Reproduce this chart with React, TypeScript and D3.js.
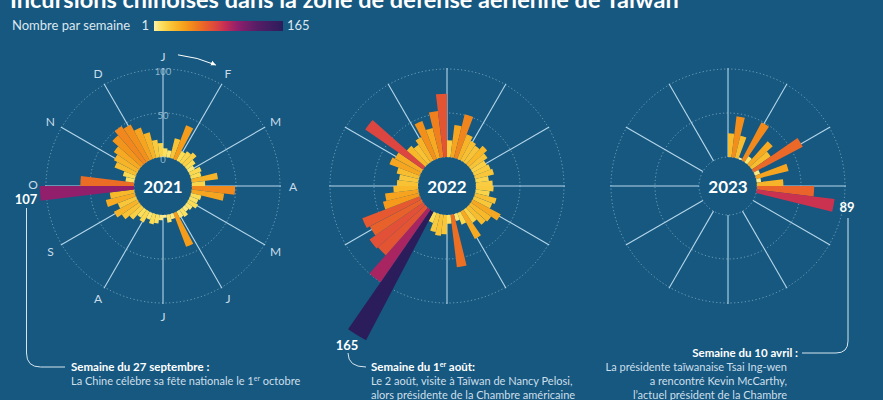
import React from 'react';
import * as d3 from 'd3';

const MONTHS = ['J', 'F', 'M', 'A', 'M', 'J', 'J', 'A', 'S', 'O', 'N', 'D'];
const TICKS = [0, 50, 100];
const YEARS = ['2021', '2022', '2023'];

const WEEKS_2021 = [
  10, 8, 23, 41, 12, 15, 18, 12, 8, 14, 12, 30, 15, 49, 37, 12, 10, 12, 8, 6,
  10, 8, 41, 6, 9, 3, 6, 10, 12, 8, 14, 11, 18, 24, 30, 22, 34, 28, 107, 61,
  10, 14, 26, 30, 35, 44, 50, 46, 38, 30, 20, 16,
];
const WEEKS_2022 = [
  19, 37, 51, 30, 25, 23, 28, 23, 18, 20, 22, 15, 19, 20, 16, 25, 22, 36, 28, 26,
  18, 35, 14, 8, 60, 10, 22, 24, 21, 12, 165, 100, 72, 74, 66, 70, 42, 38, 28, 24,
  22, 26, 37, 34, 80, 28, 24, 30, 46, 35, 53, 72,
];
const WEEKS_2023 = [27, 47, 26, 2, 49, 8, 35, 26, 63, 6, 38, 5, 30, 65, 89];

const COLOR_DOMAIN = [1, 12, 28, 42, 55, 68, 80, 92, 107, 130, 165];
const COLOR_RANGE = [
  '#fdf1a8', '#fbdc52', '#f8b82a', '#f59a1a', '#ef7b1f', '#e75c2d',
  '#dc4540', '#c42b55', '#911f6c', '#5a1d66', '#2b1d5c',
];
const LEGEND_MIN = 1;
const LEGEND_MAX = 165;

const BG = '#16587f';
const FONT = 'Lato, "Open Sans", sans-serif';

const CENTERS_X = [163, 447, 728];
const CY = 186;

const rScale = d3.scaleLinear().domain([0, 100]).range([29, 117]);
const color = d3.scaleLinear<string>().domain(COLOR_DOMAIN).range(COLOR_RANGE).interpolate(d3.interpolateRgb).clamp(true);

const STEP = (2 * Math.PI) / 52;
const arcGen = d3.arc<any>();

function polar(cx: number, r: number, a: number): [number, number] {
  return [cx + r * Math.sin(a), CY - r * Math.cos(a)];
}

function Radial({ cx, data, year, showLabels }: { cx: number; data: number[]; year: string; showLabels: boolean }) {
  const spokeIn = rScale(0);
  const spokeOut = rScale(100) + 1;
  return (
    <g>
      {TICKS.map((t) => (
        <circle key={t} cx={cx} cy={CY} r={rScale(t)} fill="none" stroke="#9cc4dd" strokeOpacity={0.75} strokeWidth={0.9} strokeDasharray="1.2 2.4" />
      ))}
      {MONTHS.map((m, i) => {
        const a = (i * Math.PI) / 6;
        const [x1, y1] = polar(cx, spokeIn, a);
        const [x2, y2] = polar(cx, spokeOut, a);
        return <line key={i} x1={x1} y1={y1} x2={x2} y2={y2} stroke="#b5d6ea" strokeWidth={1.1} />;
      })}
      {data.map((v, i) => (
        <path
          key={i}
          transform={`translate(${cx},${CY})`}
          d={arcGen({ innerRadius: rScale(0), outerRadius: rScale(v), startAngle: i * STEP, endAngle: (i + 1) * STEP }) as string}
          fill={color(v)}
        />
      ))}
      {showLabels &&
        MONTHS.map((m, i) => {
          const a = (i * Math.PI) / 6;
          const [x, y] = polar(cx, 130, a);
          return (
            <text key={'m' + i} x={x} y={i === 9 ? y - 2 : y} fill="#c9dcea" fontSize={12} fontFamily={FONT} textAnchor="middle" dominantBaseline="central">
              {m}
            </text>
          );
        })}
      {showLabels &&
        TICKS.map((t) => (
          <text key={'t' + t} x={cx} y={CY - rScale(t) + 2} fill="#a9c9de" fillOpacity={0.85} fontSize={9.5} fontFamily={FONT} textAnchor="middle" dominantBaseline="central">
            {t}
          </text>
        ))}
      {showLabels && (
        <path
          d={(() => {
            const [x1, y1] = polar(cx, 132, (6.5 * Math.PI) / 180);
            const [x2, y2] = polar(cx, 132, (23.5 * Math.PI) / 180);
            return `M${x1},${y1} A132,132 0 0 1 ${x2},${y2}`;
          })()}
          fill="none"
          stroke="#ffffff"
          strokeWidth={1}
          markerEnd="url(#arrowhead)"
        />
      )}
      <text x={cx} y={CY} fill="#ffffff" fontSize={17} fontWeight={700} fontFamily={FONT} textAnchor="middle" dominantBaseline="central">
        {year}
      </text>
    </g>
  );
}

export default function App() {
  const legendX = 154;
  const legendW = 129;
  const stops = d3.range(0, 1.0001, 0.05).map((t) => ({ t, c: color(LEGEND_MIN + t * (LEGEND_MAX - LEGEND_MIN)) }));
  const bodyFill = '#cddfeb';
  return (
    <svg width={883} height={400} style={{ position: 'absolute', left: 0, top: 0, display: 'block' }}>
      <defs>
        <linearGradient id="legendGrad" x1="0" x2="1" y1="0" y2="0">
          {stops.map((s) => (
            <stop key={s.t} offset={s.t} stopColor={s.c} />
          ))}
        </linearGradient>
        <marker id="arrowhead" viewBox="0 0 10 10" refX="8" refY="5" markerWidth="6" markerHeight="6" orient="auto">
          <path d="M0,1 L9,5 L0,9 z" fill="#ffffff" />
        </marker>
      </defs>
      <rect x={0} y={0} width={883} height={400} fill={BG} />
      <text x={10} y={8} fill="#ffffff" fontSize={23.5} fontWeight={700} fontFamily={FONT}>
        Incursions chinoises dans la zone de défense aérienne de Taïwan
      </text>
      <text x={12} y={30} fill="#dde7ef" fontSize={13} fontFamily={FONT}>
        Nombre par semaine
      </text>
      <text x={149} y={30} fill="#dde7ef" fontSize={13} fontFamily={FONT} textAnchor="end">
        {LEGEND_MIN}
      </text>
      <rect x={legendX} y={21} width={legendW} height={10} fill="url(#legendGrad)" />
      <text x={287} y={30} fill="#dde7ef" fontSize={13} fontFamily={FONT}>
        {LEGEND_MAX}
      </text>

      <Radial cx={CENTERS_X[0]} data={WEEKS_2021} year={YEARS[0]} showLabels={true} />
      <Radial cx={CENTERS_X[1]} data={WEEKS_2022} year={YEARS[1]} showLabels={false} />
      <Radial cx={CENTERS_X[2]} data={WEEKS_2023} year={YEARS[2]} showLabels={false} />

      {/* 2021 annotation */}
      <text x={26} y={199} fill="#ffffff" fontSize={13} fontWeight={700} fontFamily={FONT} textAnchor="middle" dominantBaseline="central">
        107
      </text>
      <path d="M26.5,208 L26.5,353 Q26.5,367 40.5,367 L65,367" fill="none" stroke="#d6e6f1" strokeWidth={1} />
      <text x={71} y={371} fill="#ffffff" fontSize={11.5} fontWeight={700} fontFamily={FONT}>
        Semaine du 27 septembre :
      </text>
      <text x={71} y={385} fill={bodyFill} fontSize={11} fontFamily={FONT}>
        La Chine célèbre sa fête nationale le 1
        <tspan dy={-4} fontSize={7}>er</tspan>
        <tspan dy={4}> octobre</tspan>
      </text>

      {/* 2022 annotation */}
      <text x={347} y={345} fill="#ffffff" fontSize={13} fontWeight={700} fontFamily={FONT} textAnchor="middle" dominantBaseline="central">
        165
      </text>
      <path d="M348,353 Q348,367 366,367" fill="none" stroke="#d6e6f1" strokeWidth={1} />
      <text x={371} y={371} fill="#ffffff" fontSize={11.5} fontWeight={700} fontFamily={FONT}>
        Semaine du 1<tspan dy={-4} fontSize={7}>er</tspan>
        <tspan dy={4}> août:</tspan>
      </text>
      <text x={371} y={385} fill={bodyFill} fontSize={11} fontFamily={FONT}>
        Le 2 août, visite à Taïwan de Nancy Pelosi,
      </text>
      <text x={371} y={399} fill={bodyFill} fontSize={11} fontFamily={FONT}>
        alors présidente de la Chambre américaine
      </text>

      {/* 2023 annotation */}
      <text x={847} y={207} fill="#ffffff" fontSize={13} fontWeight={700} fontFamily={FONT} textAnchor="middle" dominantBaseline="central">
        89
      </text>
      <path d="M848,218 L848,341 Q848,353 836,353 L802,353" fill="none" stroke="#d6e6f1" strokeWidth={1} />
      <text x={798} y={357} fill="#ffffff" fontSize={11.5} fontWeight={700} fontFamily={FONT} textAnchor="end">
        Semaine du 10 avril :
      </text>
      <text x={787} y={371} fill={bodyFill} fontSize={11} fontFamily={FONT} textAnchor="end">
        La présidente taïwanaise Tsai Ing-wen
      </text>
      <text x={787} y={385} fill={bodyFill} fontSize={11} fontFamily={FONT} textAnchor="end">
        a rencontré Kevin McCarthy,
      </text>
      <text x={787} y={399} fill={bodyFill} fontSize={11} fontFamily={FONT} textAnchor="end">
        l’actuel président  de la Chambre
      </text>
    </svg>
  );
}
